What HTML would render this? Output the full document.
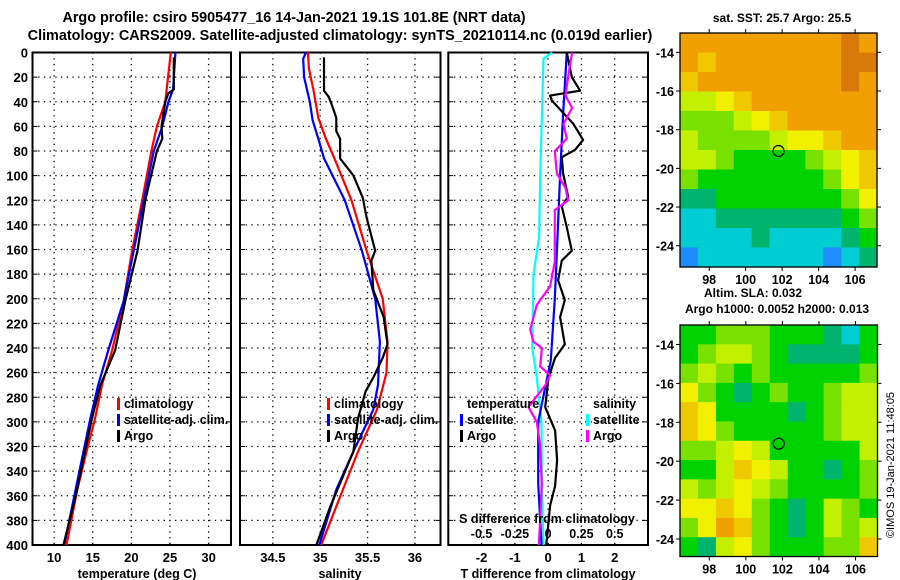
<!DOCTYPE html>
<html><head><meta charset="utf-8">
<style>
html,body{margin:0;padding:0;background:#fff;}
svg{display:block;font-family:"Liberation Sans",sans-serif;font-weight:bold;}
</style></head>
<body>
<svg id="c" width="900" height="580" viewBox="0 0 900 580" xmlns="http://www.w3.org/2000/svg">
<text x="294" y="22" text-anchor="middle" font-size="14.4">Argo profile: csiro 5905477_16 14-Jan-2021 19.1S 101.8E (NRT data)</text>
<text x="340" y="40" text-anchor="middle" font-size="14.4">Climatology: CARS2009. Satellite-adjusted climatology: synTS_20210114.nc (0.019d earlier)</text>
<text x="782" y="22" text-anchor="middle" font-size="12">sat. SST: 25.7 Argo: 25.5</text>
<text x="753" y="297" text-anchor="middle" font-size="12">Altim. SLA: 0.032</text>
<text x="777" y="313" text-anchor="middle" font-size="12">Argo h1000: 0.0052 h2000: 0.013</text>
<text x="0" y="0" transform="translate(894,465) rotate(-90)" text-anchor="middle" font-size="11" font-weight="normal">©IMOS 19-Jan-2021 11:48:05</text>
<g id="layer"></g>
</svg>
<script>
// ---------- data ----------
const depthTicks = [0,20,40,60,80,100,120,140,160,180,200,220,240,260,280,300,320,340,360,380,400];
const tempTicks = [10,15,20,25,30];
const salTicks = [34.5,35,35.5,36];
const tdiffTicks = [-2,-1,0,1,2];
const sdiffTicks = [-0.5,-0.25,0,0.25,0.5];
const sdiffTickLabels = ["-0.5","-0.25","0","0.25","0.5"];

const tClimD = [0,40,60,80,120,161,202,242,270,297,324,355,400];
const tClimV = [25.1,24.4,23.3,22.6,21.4,20.1,19.0,17.5,16.2,15.3,14.2,13.0,11.6];
const tSatD = [0,30,40,60,80,120,161,202,242,270,297,324,400];
const tSatV = [25.7,25.4,24.8,24.0,22.9,21.6,20.3,19.0,17.0,15.7,14.7,13.8,11.3];
const tArgoD = [4,30,33,40,60,70,80,120,161,202,242,270,297,324,360,400];
const tArgoV = [25.5,25.5,24.8,24.4,23.9,24.0,23.3,21.8,20.8,19.2,17.9,16.0,14.9,14.0,12.8,11.2];

const sClimD = [0,13,31,53,70,86,120,161,200,235,260,290,324,355,400];
const sClimV = [34.87,34.88,34.93,34.98,35.06,35.15,35.33,35.49,35.66,35.71,35.70,35.60,35.40,35.24,35.01];
const sSatD = [0,5,20,40,55,70,86,120,161,200,235,270,290,324,355,400];
const sSatV = [34.85,34.82,34.83,34.89,34.92,34.98,35.04,35.26,35.44,35.58,35.63,35.61,35.56,35.35,35.17,34.99];
const sArgoD = [4,31,36,42,53,64,70,86,100,118,134,161,169,193,215,237,248,264,275,297,324,370,400];
const sArgoV = [35.04,35.04,35.09,35.12,35.17,35.17,35.21,35.21,35.35,35.45,35.49,35.58,35.54,35.56,35.67,35.71,35.66,35.56,35.48,35.40,35.35,35.10,34.96];

const dTArgoD = [0,20,31,35,39,58,71,79,85,98,117,125,142,161,169,185,201,215,237,248,264,288,307,331,352,368,385,400];
const dTArgoV = [0.56,0.71,0.96,0.06,0.11,0.76,1.05,0.81,0.41,0.45,0.60,0.41,0.56,0.71,0.41,0.30,0.50,0.36,0.50,0.21,0.01,-0.09,0.21,0.27,0.21,0.06,0.0,-0.06];
const dTSatD = [0,50,100,150,200,250,280,300,350,400];
const dTSatV = [0.56,0.45,0.36,0.28,0.20,0.08,-0.15,-0.30,-0.30,-0.20];
const dSSatD = [0,5,100,150,180,240,264,300,350,400];
const dSSatV = [0.03,-0.035,-0.06,-0.068,-0.11,-0.12,-0.085,-0.05,-0.048,-0.035];
const dSArgoD = [0,20,35,45,58,70,80,98,110,120,128,170,190,205,225,235,240,255,262,270,288,300,320,350,380,400];
const dSArgoV = [0.18,0.15,0.13,0.18,0.115,0.14,0.05,0.065,0.13,0.15,0.05,0.05,0.015,-0.085,-0.135,-0.11,-0.047,-0.06,0.015,-0.02,-0.148,-0.085,-0.06,-0.048,-0.06,-0.07];

// heatmaps (colour level 0..9), rows from north (-13) to south (-25), cols 96.5E..107.5E
const sstGrid = [
"88888888898","87888888899","78888888898","55678888888","44456788888",
"54444566788","55433334567","43333333467","22333333346","11222222234",
"11112111123","01111111012"];
const slaGrid = [
"33444333213","34554322223","45434333334","64323433455","76333323455",
"76433333455","44565333335","33576533234","54565433334","66764323543",
"46874323545","32564333447"];
const sstLon = [96.4,107.2], sstLat = [-13.0,-25.1];
const slaLon = [96.4,107.2], slaLat = [-13.0,-24.9];
const lonTicks = [98,100,102,104,106];
const latTicks = [-14,-16,-18,-20,-22,-24];
const argoPos = [101.8,-19.1];

// ---------- layout ----------
const NS = "http://www.w3.org/2000/svg";
const layer = document.getElementById('layer');
const Y0 = 52.5, Y1 = 545;
function yD(d){ return Y0 + (d/400)*(Y1-Y0); }
function mk(tag, attrs, parent){ const e=document.createElementNS(NS,tag); for(const k in attrs) e.setAttribute(k,attrs[k]); (parent||layer).appendChild(e); return e; }

const panels = [
 {name:'temperature', x0:32.5, x1:231, v0:7.2, v1:32.9},
 {name:'salinity', x0:240, x1:440.5, v0:34.153, v1:36.27},
 {name:'difference', x0:448.3, x1:648, v0:-3, v1:3}
];
function xS(p,v){ return p.x0 + (v-p.v0)/(p.v1-p.v0)*(p.x1-p.x0); }

function frame(p, xt, labelY){
  const g = mk('g',{});
  
  
  depthTicks.forEach(d=>{
    if(d>0 && d<400){ const l=mk('line',{x1:p.x0,x2:p.x1,y1:yD(d),y2:yD(d),stroke:'#000','stroke-width':1.3,'stroke-dasharray':'1.3 4.4'},g);
        }
    mk('line',{x1:p.x0,x2:p.x0+5,y1:yD(d),y2:yD(d),stroke:'#000','stroke-width':1},g);
    mk('line',{x1:p.x1-5,x2:p.x1,y1:yD(d),y2:yD(d),stroke:'#000','stroke-width':1},g);
  });
  xt.forEach(v=>{
    const x=xS(p,v);
    const l=mk('line',{x1:x,x2:x,y1:Y0,y2:Y1,stroke:'#000','stroke-width':1.3,'stroke-dasharray':'1.3 4.4'},g);
     
    const t=mk('text',{x:x,y:labelY,'text-anchor':'middle','font-size':13},g); t.textContent=String(v);
     
  });
  const r=mk('rect',{x:p.x0,y:Y0,width:p.x1-p.x0,height:Y1-Y0,fill:'none',stroke:'#000','stroke-width':2},g);
   
  return g;
}
function line(p, D, V, color, name, scale){
  const pts = D.map((d,i)=> xS(p,V[i]*(scale||1)).toFixed(1)+','+yD(d).toFixed(1)).join(' ');
  const e=mk('polyline',{points:pts,fill:'none',stroke:color,'stroke-width':2.2,'stroke-linejoin':'round'});
  
  
}
function txt(x,y,s,opts){ const t=mk('text',Object.assign({x:x,y:y,'font-size':12.5},opts||{})); t.textContent=s; return t; }
function legendMark(x,y,c){ mk('rect',{x:x,y:y-10,width:3,height:12,fill:c}); }

depthTicks.forEach(d=>{ const t=txt(28,yD(d)+5,String(d),{'text-anchor':'end','font-size':13});
    });

frame(panels[0], tempTicks, 562);
line(panels[0], tClimD, tClimV, '#ff0000', 'temp-climatology-line');
line(panels[0], tSatD, tSatV, '#0000ff', 'temp-satellite-line');
line(panels[0], tArgoD, tArgoV, '#000000', 'temp-argo-line');
let t;
t=txt(137,578,'temperature (deg C)',{'text-anchor':'middle','font-size':12.5});  
[['climatology','#ff0000',408],['satellite-adj. clim.','#0000ff',424],['Argo','#000',440]].forEach(([s,c,y])=>{
  legendMark(117,y,c); t=txt(124,y,s);   });

frame(panels[1], salTicks, 562);
line(panels[1], sClimD, sClimV, '#ff0000', 'sal-climatology-line');
line(panels[1], sSatD, sSatV, '#0000ff', 'sal-satellite-line');
line(panels[1], sArgoD, sArgoV, '#000000', 'sal-argo-line');
t=txt(340,578,'salinity',{'text-anchor':'middle'});  
[['climatology','#ff0000',408],['satellite-adj. clim.','#0000ff',424],['Argo','#000',440]].forEach(([s,c,y])=>{
  legendMark(327,y,c); t=txt(334,y,s);   });

frame(panels[2], tdiffTicks, 562);
line(panels[2], dSSatD, dSSatV, '#00ffff', 'sdiff-satellite-line', 4);
line(panels[2], dTSatD, dTSatV, '#0000ff', 'tdiff-satellite-line');
line(panels[2], dTArgoD, dTArgoV, '#000000', 'tdiff-argo-line');
line(panels[2], dSArgoD, dSArgoV, '#ff00ff', 'sdiff-argo-line', 4);
t=txt(548,578,'T difference from climatology',{'text-anchor':'middle'});  
t=txt(547,523,'S difference from climatology',{'text-anchor':'middle'});  
sdiffTicks.forEach((v,i)=>{ t=txt(xS(panels[2],v*4),538,sdiffTickLabels[i],{'text-anchor':'middle'});
    });
t=txt(467,408,'temperature');  
t=txt(593,408,'salinity');  
legendMark(460,424,'#0000ff'); t=txt(467,424,'satellite');  
legendMark(460,440,'#000'); t=txt(467,440,'Argo');  
legendMark(586,424,'#00ffff'); t=txt(593,424,'satellite');  
legendMark(586,440,'#ff00ff'); t=txt(593,440,'Argo');  

const palette = ['#1e8cff','#00cdd2','#00b46e','#00d200','#78e100','#c3f000','#f0f000','#f0c800','#f0a000','#d87a0a'];
function drawMap(name, grid, lon, lat, box){
  const g=mk('g',{});
  
  
  const rows=grid.length, cols=grid[0].length;
  const cw=(box.x1-box.x0)/cols, ch=(box.y1-box.y0)/rows;
  grid.forEach((row,r)=>{ for(let c=0;c<cols;c++){
    const cell=mk('rect',{x:(box.x0+c*cw).toFixed(2),y:(box.y0+r*ch).toFixed(2),width:(cw+0.6).toFixed(2),height:(ch+0.6).toFixed(2),fill:palette[+row[c]]},g);
    
    
  }});
  const lx=v=>box.x0+(v-lon[0])/(lon[1]-lon[0])*(box.x1-box.x0);
  const ly=v=>box.y0+(v-lat[0])/(lat[1]-lat[0])*(box.y1-box.y0);
  mk('rect',{x:box.x0,y:box.y0,width:box.x1-box.x0,height:box.y1-box.y0,fill:'none',stroke:'#000','stroke-width':1.3},g);
  lonTicks.forEach(v=>{ const x=lx(v);
    mk('line',{x1:x,x2:x,y1:box.y0-4,y2:box.y0,stroke:'#000'},g);
    mk('line',{x1:x,x2:x,y1:box.y1,y2:box.y1+4,stroke:'#000'},g);
    const tt=mk('text',{x:x,y:box.y1+17,'text-anchor':'middle','font-size':12.5},g); tt.textContent=String(v);
      });
  latTicks.forEach(v=>{ const y=ly(v);
    mk('line',{x1:box.x0-4,x2:box.x0,y1:y,y2:y,stroke:'#000'},g);
    mk('line',{x1:box.x1,x2:box.x1+4,y1:y,y2:y,stroke:'#000'},g);
    const tt=mk('text',{x:box.x0-6,y:y+5,'text-anchor':'end','font-size':12.5},g); tt.textContent=String(v);
      });
  const m=mk('circle',{cx:lx(argoPos[0]),cy:ly(argoPos[1]),r:5.5,fill:'none',stroke:'#000','stroke-width':1.2},g);
   
}
drawMap('sst-map', sstGrid, sstLon, sstLat, {x0:680,x1:877,y0:33,y1:267});
drawMap('sla-map', slaGrid, slaLon, slaLat, {x0:680,x1:877.5,y0:325,y1:556.5});
</script>
</body></html>
